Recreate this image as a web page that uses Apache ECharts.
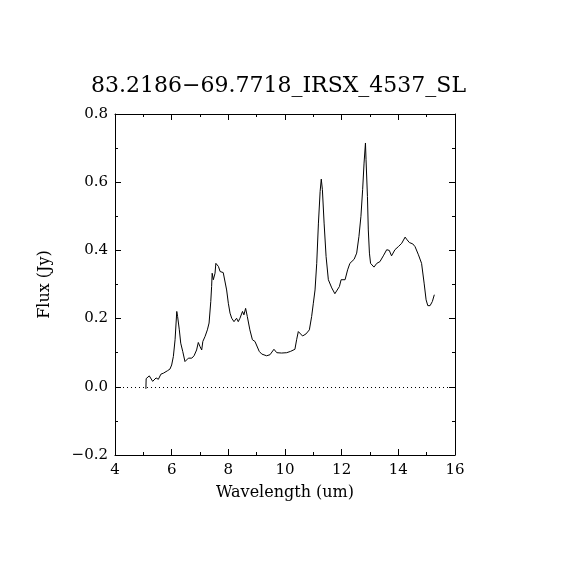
<!DOCTYPE html>
<html>
<head>
<meta charset="utf-8">
<script src="https://cdn.jsdelivr.net/npm/echarts@6/dist/echarts.min.js"></script>
<style>
  html, body { margin: 0; padding: 0; background: #fff; }
  #chart { width: 570px; height: 570px; }
</style>
</head>
<body>
<div id="chart"></div>
<script>
// spectrum
const wavelength = [
  5.09, 5.10, 5.21, 5.33, 5.45, 5.53, 5.62, 5.71, 5.76, 5.85, 5.94, 6.00, 6.06, 6.12, 6.18, 6.21,
  6.27, 6.32, 6.39, 6.47, 6.53, 6.59, 6.71, 6.79, 6.88, 6.94, 7.00, 7.06, 7.10, 7.18, 7.26, 7.32,
  7.38, 7.41, 7.43, 7.47, 7.53, 7.56, 7.61, 7.65, 7.71, 7.76, 7.82, 7.88, 7.94, 8.00, 8.06, 8.12,
  8.20, 8.29, 8.35, 8.41, 8.50, 8.55, 8.61, 8.67, 8.76, 8.85, 8.94, 9.09, 9.18, 9.35, 9.47, 9.53,
  9.61, 9.71, 9.88, 10.06, 10.20, 10.35, 10.41, 10.47, 10.53, 10.62, 10.74, 10.86, 10.94, 11.00,
  11.06, 11.12, 11.18, 11.24, 11.28, 11.32, 11.38, 11.45, 11.53, 11.65, 11.76, 11.82, 11.92, 11.98,
  12.12, 12.21, 12.29, 12.44, 12.53, 12.61, 12.68, 12.74, 12.79, 12.84, 12.86, 12.91, 12.94, 12.98,
  13.02, 13.14, 13.24, 13.35, 13.47, 13.59, 13.68, 13.76, 13.88, 14.00, 14.12, 14.24, 14.29, 14.39,
  14.51, 14.59, 14.71, 14.82, 14.91, 14.98, 15.04, 15.12, 15.20, 15.27
];
const flux = [
  -0.006, 0.024, 0.032, 0.016, 0.026, 0.022, 0.037, 0.040, 0.035, 0.047, 0.052, 0.064, 0.089, 0.138, 0.221, 0.206,
  0.167, 0.128, 0.104, 0.074, 0.079, 0.084, 0.084, 0.091, 0.108, 0.130, 0.118, 0.108, 0.133, 0.148, 0.167, 0.187,
  0.250, 0.294, 0.333, 0.314, 0.333, 0.362, 0.367, 0.353, 0.338, 0.333, 0.335, 0.333, 0.284, 0.245, 0.216, 0.201,
  0.191, 0.201, 0.191, 0.201, 0.221, 0.211, 0.230, 0.206, 0.167, 0.138, 0.133, 0.104, 0.096, 0.091, 0.094, 0.099,
  0.110, 0.100, 0.099, 0.100, 0.104, 0.110, 0.138, 0.162, 0.162, 0.149, 0.155, 0.167, 0.206, 0.245,
  0.284, 0.362, 0.480, 0.573, 0.609, 0.578, 0.480, 0.382, 0.314, 0.290, 0.273, 0.275, 0.294, 0.314,
  0.314, 0.343, 0.362, 0.374, 0.392, 0.441, 0.500, 0.578, 0.656, 0.715, 0.666, 0.558, 0.460, 0.392,
  0.362, 0.351, 0.362, 0.367, 0.384, 0.402, 0.400, 0.384, 0.402, 0.411, 0.421, 0.439, 0.433, 0.423,
  0.419, 0.411, 0.387, 0.362, 0.304, 0.255, 0.238, 0.238, 0.250, 0.270
];
const xRange = [4, 16];
const yRange = [-0.2, 0.8];
const zeroLevel = 0;

const FONT = "DejaVu Serif";
const chart = echarts.init(document.getElementById("chart"), null, { renderer: "canvas" });

const axisLine = { show: true, onZero: false, lineStyle: { color: "#000", width: 1 } };
const majorTick = { show: true, inside: true, length: 6, lineStyle: { color: "#000" } };
const minorTick = { show: true, splitNumber: 2, length: 3, lineStyle: { color: "#000" } };

function xAxis(pos, labels) {
  return {
    type: "value", position: pos, min: xRange[0], max: xRange[1], interval: 2,
    axisLine, axisTick: majorTick, minorTick,
    splitLine: { show: false },
    axisLabel: { show: labels, color: "#000", fontFamily: FONT, fontSize: 15, margin: 8 },
    name: labels ? "Wavelength (um)" : "", nameLocation: "middle", nameGap: 30,
    nameTextStyle: { color: "#000", fontFamily: FONT, fontSize: 16 }
  };
}
function yAxis(pos, labels) {
  return {
    type: "value", position: pos, min: yRange[0], max: yRange[1], interval: 0.2,
    axisLine, axisTick: majorTick, minorTick,
    splitLine: { show: false },
    axisLabel: {
      show: labels, color: "#000", fontFamily: FONT, fontSize: 15, margin: 7,
      formatter: v => v.toFixed(1).replace("-", "\u2212")
    },
    name: labels ? "Flux (Jy)" : "", nameLocation: "middle", nameGap: 62,
    nameTextStyle: { color: "#000", fontFamily: FONT, fontSize: 16 }
  };
}

chart.setOption({
  animation: false,
  backgroundColor: "#fff",
  title: {
    text: "83.2186\u221269.7718_IRSX_4537_SL",
    left: 86, top: 70,
    textStyle: { color: "#000", fontFamily: FONT, fontWeight: "normal", fontSize: 22 }
  },
  grid: { left: 115, right: 115, top: 114, bottom: 115 },
  xAxis: [xAxis("bottom", true), xAxis("top", false)],
  yAxis: [yAxis("left", true), yAxis("right", false)],
  series: [
    {
      type: "line",
      data: wavelength.map((w, i) => [w, flux[i]]),
      showSymbol: false,
      lineStyle: { color: "#000", width: 1 },
      markLine: {
        silent: true, symbol: "none", label: { show: false },
        lineStyle: { color: "#000", type: [1, 3], width: 1 },
        data: [[{ coord: [xRange[0], zeroLevel] }, { coord: [xRange[1], zeroLevel] }]]
      }
    }
  ]
});
</script>
</body>
</html>
